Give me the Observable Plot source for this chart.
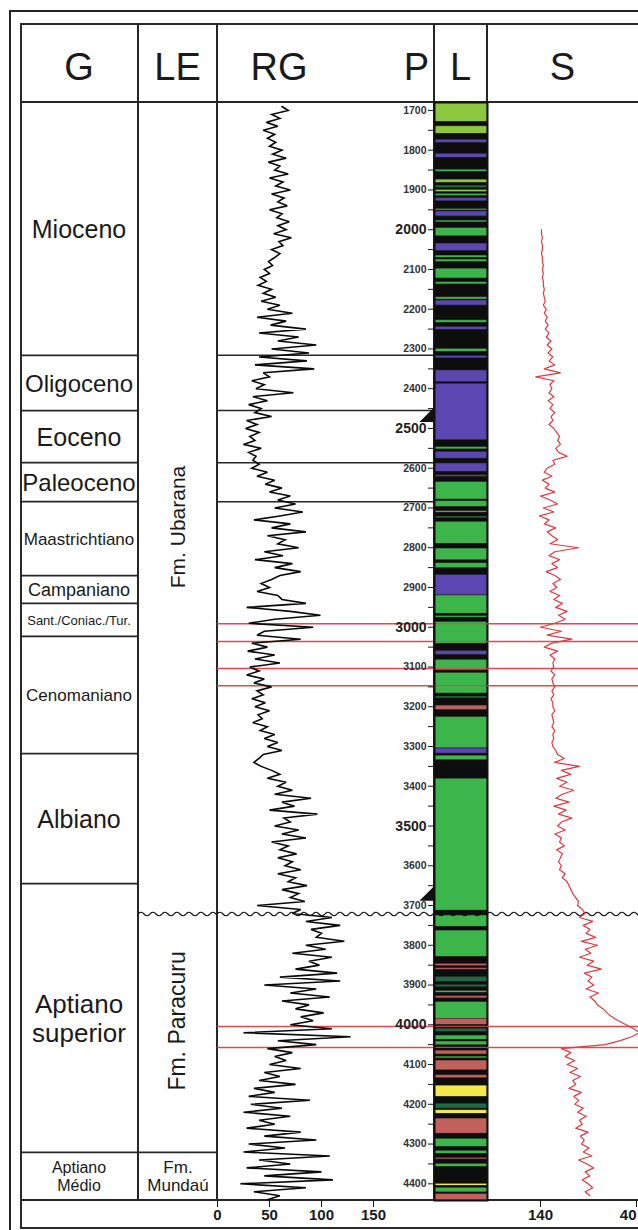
<!DOCTYPE html>
<html>
<head>
<meta charset="utf-8">
<script src="https://cdn.jsdelivr.net/npm/d3@7"></script>
<script src="https://cdn.jsdelivr.net/npm/@observablehq/plot@0.6"></script>
<style>
  html,body{margin:0;padding:0;background:#fff;}
  *{box-sizing:border-box;}
  #root{position:relative;width:638px;height:1230px;overflow:hidden;background:#fff;font-family:"Liberation Sans",Arial,sans-serif;color:#1a1a1a;}
  .hdr{font-size:38px;line-height:38px;text-align:center;color:#1a1a1a;white-space:nowrap;}
</style>
</head>
<body>
<div id="root"></div>
<svg width="0" height="0" style="position:absolute;left:0;top:0">
  <defs>
    <pattern id="wave" patternUnits="userSpaceOnUse" x="0" y="0" width="12" height="10">
      <path d="M0 5 Q3 1.5 6 5 T12 5" fill="none" stroke="#111" stroke-width="1.2"/>
    </pattern>
  </defs>
</svg>
<script>
// ======================= DATA =======================
// Geological ages (column G)
const geoNames = ["Mioceno","Oligoceno","Eoceno","Paleoceno","Maastrichtiano","Campaniano","Sant./Coniac./Tur.","Cenomaniano","Albiano","Aptiano\nsuperior","Aptiano\nMédio"];
const geoTops  = [1680,2316,2455,2586,2684,2870,2940,3023,3318,3645,4321];
const geoBases = [2316,2455,2586,2684,2870,2940,3023,3318,3645,4321,4442];

// Lithostratigraphic units (column LE)
const fmNames = ["Fm. Ubarana","Fm. Paracuru","Fm.\nMundaú"];
const fmTops  = [1680,3720,4321];
const fmBases = [3720,4321,4442];

// Key surfaces (m)
const ageLines = [2316,2455,2586,2684];        // black lines across RG track
const redLines = [2991,3036,3104,3147,4004,4057];
const unconformity = 3720;
const markers = [2465,3669];                    // black flags beside lithology column

// Depth ticks (P)
const depthLabels = [1700,1800,1900,2100,2200,2300,2400,2600,2700,2800,2900,3100,3200,3300,3400,3600,3700,3800,3900,4100,4200,4300,4400];
const depthLabelsBig = [2000,2500,3000,3500,4000];
const depthMinor = [1750,1850,1950,2050,2150,2250,2350,2450,2550,2650,2750,2850,2950,3050,3150,3250,3350,3450,3550,3650,3750,3850,3950,4050,4150,4250,4350];

// Lithology (column L): layer tops and codes (base = next top)
const litTop = [
1680,1729,1740,1759,1774,1782,1809,1819,1849,1855,
1874,1883,1889,1895,1900,1906,1910,1916,1921,1929,
1948,1952,1954,1967,1977,1982,1996,2017,2035,2054,
2065,2071,2075,2082,2098,2123,2132,2138,2170,2176,
2178,2191,2228,2235,2245,2252,2300,2308,2318,2324,
2354,2384,2388,2530,2547,2553,2559,2576,2588,2609,
2618,2622,2635,2679,2683,2698,2708,2712,2722,2726,
2735,2790,2802,2832,2839,2852,2869,2920,2966,2972,
2976,2987,3042,3060,3070,3082,3109,3115,3167,3175,
3179,3197,3209,3226,3305,3318,3323,3335,3381,3713,
3725,3754,3763,3830,3847,3853,3858,3862,3880,3893,
3900,3906,3915,3920,3928,3934,3943,3985,4001,4010,
4018,4027,4038,4042,4052,4065,4075,4080,4085,4090,
4115,4127,4135,4153,4182,4199,4211,4215,4224,4236,
4274,4287,4308,4317,4325,4335,4339,4350,4358,4400,
4405,4410,4422,4426];
const litCode = [
"LG","K","LG","K","P","K","P","K","G","K",
"LG","K","DG","K","LG","K","G","K","P","K",
"G","K","P","K","G","K","G","K","P","K",
"G","K","G","K","G","K","G","K","G","K",
"P","K","G","K","P","K","G","K","P","K",
"P","K","P","K","G","K","P","K","P","K",
"P","K","G","K","G","K","G","K","G","K",
"G","K","G","K","G","K","P","G","K","G",
"K","G","K","P","K","G","K","G","K","G",
"K","R","K","G","P","K","G","K","G","K",
"G","K","G","K","R","K","R","K","DG","K",
"DG","K","G","K","R","K","G","R","K","DG",
"K","G","K","G","K","R","K","G","K","R",
"K","R","K","Y","K","DG","K","Y","K","R",
"K","G","K","G","K","R","K","G","K","Y",
"K","G","K","R"];
const litBottom = 4442;
const litKeys = ["LG","G","P","K","R","Y","DG"];

// Gamma ray (RG, API) sampled every 10 m from 1690 m
const rgStart = 1690, rgStep = 10;
const rgValues = [
62,68,52,60,47,58,44,55,48,56,
50,62,53,66,49,60,55,68,50,63,
56,70,52,64,58,67,50,62,57,69,
58,66,54,71,59,63,52,60,55,49,
53,45,50,41,47,39,52,44,56,42,
60,48,72,38,66,51,85,40,78,58,
95,52,88,40,86,36,93,44,50,33,
45,37,73,34,48,30,42,36,52,28,
38,27,40,31,36,25,42,30,37,34,
40,33,48,38,55,46,62,50,70,58,
75,55,82,60,35,70,52,85,48,65,
58,78,45,63,36,72,55,80,60,52,
42,50,38,58,62,85,28,70,99,55,
30,92,45,38,80,33,48,29,55,36,
60,31,40,28,45,35,52,38,44,33,
46,36,50,39,43,34,48,41,55,45,
58,48,62,44,40,35,42,52,60,48,
66,58,72,55,90,62,74,50,96,64,
70,55,78,62,85,52,68,60,76,58,
72,65,80,58,75,68,86,62,78,70,
84,38,80,72,110,85,118,90,100,95,
122,85,104,72,110,88,98,75,115,60,
118,45,95,70,108,62,88,75,102,80,
92,70,110,25,128,58,95,48,72,55,
66,50,80,45,60,40,75,35,55,30,
89,32,62,25,70,40,55,28,80,45,
95,30,65,25,108,40,70,28,100,45,
111,22,85,35,60,48];
const rgTicks = [0,50,100,150];

// Sonic (S) sampled every 10 m from 2000 m
const sStart = 2000, sStep = 10;
const sValues = [
139,139,138,139,138,138,139,138,138,137,
138,137,138,137,137,136,137,136,135,137,
134,136,133,135,132,135,131,134,129,133,
128,132,127,131,125,136,119,145,126,130,
128,131,126,132,127,130,125,129,127,131,
126,123,120,122,119,124,121,112,127,125,
133,136,128,138,131,135,125,140,130,122,
137,126,141,131,136,124,133,128,122,130,
100,125,131,120,128,122,134,125,119,127,
123,130,120,126,117,124,112,121,114,125,
140,118,133,107,128,136,122,130,125,127,
126,129,125,128,127,125,128,126,129,127,
127,125,128,127,126,128,125,127,126,128,
127,124,122,115,125,99,118,108,123,112,
120,105,117,124,110,126,113,121,107,118,
122,114,125,118,120,115,123,117,119,121,
118,120,114,117,112,110,108,106,103,100,
101,96,93,99,85,95,88,92,82,97,
80,93,87,99,84,91,76,94,86,90,
84,92,79,88,83,80,74,70,65,58,
50,42,36,44,56,72,118,108,114,104,
112,101,109,98,106,103,110,97,105,100,
104,95,101,92,99,96,103,90,98,94,
97,89,95,86,100,91,84,93,88,96,
90,85,93,88];
const sTicks = [140,40];

// Column headers
const headers = ["G","LE","RG","P","L","S"];

// ======================= STYLE / LAYOUT =======================
const litColors = ["#8dc63f","#3cb64b","#5b47b2","#0d0d0d","#c2605b","#f3e84c","#1c6a46"];
const geoFont = {"Mioceno":25,"Oligoceno":24,"Eoceno":25,"Paleoceno":24,"Maastrichtiano":17,"Campaniano":18,"Sant./Coniac./Tur.":13,"Cenomaniano":17,"Albiano":25,"Aptiano\nsuperior":26,"Aptiano\nMédio":16};
const FONT = '"Liberation Sans", Arial, sans-serif';
const NARROW = '"Liberation Sans Narrow", "Liberation Sans", Arial, sans-serif';
const Y0 = 1680, Y1 = 4442;       // depth at top / bottom of the tracks
const TOP = 102, H = 1098;        // pixel top and height of the tracks
const yOpt = {domain:[Y0, Y1], range:[0, H]};
const LINE = "#262626";
const RED = "#e2474c";

const root = document.getElementById("root");
function put(node, left, top){ node.style.position="absolute"; node.style.left=left+"px"; node.style.top=top+"px"; root.appendChild(node); return node; }
function box(left, top, w, h, css){ const d=document.createElement("div"); d.style.cssText=css||""; d.style.width=w+"px"; d.style.height=h+"px"; return put(d,left,top); }

// records
const geo = geoNames.map((name,i)=>({name, top:geoTops[i], base:geoBases[i]}));
const fm = fmNames.map((name,i)=>({name, top:fmTops[i], base:fmBases[i]}));
const lith = litTop.map((t,i)=>({top:t, base: i+1<litTop.length ? litTop[i+1] : litBottom, code: litCode[i]}));
const rg = rgValues.map((v,i)=>({d: rgStart + i*rgStep, v}));
const son = sValues.map((v,i)=>({d: sStart + i*sStep, v}));

// wave pattern aligned on the unconformity
const ys = Plot.scale({y: yOpt});
const uPix = ys.apply(unconformity);
document.getElementById("wave").setAttribute("y", uPix + 0.5 - 5);
const waveRule = (opts) => Plot.ruleY([unconformity], {stroke:"url(#wave)", strokeWidth:10, ...opts});

// ---------- frames ----------
box(9, 10, 700, 1400, "border-left:2px solid #222;border-top:2px solid #222;");
box(20, 23, 700, 1206, "border:2px solid #2a2a2a;");
box(20, 101, 620, 2, "background:"+LINE);
box(20, 1199, 620, 2, "background:"+LINE);
[137,216,433,486].forEach(x=>box(x, 23, 2, 1177, "background:"+LINE));

// ---------- headers ----------
const hdrPos = [[20,118,"center"],[138,79,"center"],[240,78,"center"],[380,49,"right"],[434,53,"center"],[487,151,"center"]];
headers.forEach((h,i)=>{ const [l,w,a]=hdrPos[i]; const d=box(l,48,w,40,"text-align:"+a+";"); d.className="hdr"; d.textContent=h; });

const baseStyle = {fontFamily: FONT, overflow:"visible", background:"transparent"};

// ---------- G ----------
put(Plot.plot({
  width:117, height:H, margin:0,
  x:{domain:[0,1], range:[0,117], axis:null},
  y:{...yOpt, axis:null},
  style: baseStyle,
  marks:[
    Plot.ruleY(geoTops.slice(1), {stroke:LINE, strokeWidth:1.8}),
    Plot.text(geo, {y:d=>(d.top+d.base)/2, text:"name", fontSize:d=>geoFont[d.name], lineHeight:1.12, fill:"#1a1a1a"})
  ]
}), 20, TOP);

// ---------- LE ----------
put(Plot.plot({
  width:79, height:H, margin:0,
  x:{domain:[0,1], range:[0,79], axis:null},
  y:{...yOpt, axis:null},
  style: baseStyle,
  marks:[
    Plot.ruleY([fmTops[2]], {stroke:LINE, strokeWidth:1.8}),
    waveRule({}),
    Plot.text(fm.slice(0,1), {y:d=>(d.top+d.base)/2, text:"name", rotate:-90, fontSize:21, dy:19, fill:"#1a1a1a"}),
    Plot.text(fm.slice(1,2), {y:d=>(d.top+d.base)/2, text:"name", rotate:-90, fontSize:23, dy:-12, fill:"#1a1a1a"}),
    Plot.text(fm.slice(2), {y:d=>(d.top+d.base)/2, text:"name", fontSize:17, lineHeight:1.05, fill:"#1a1a1a"})
  ]
}), 138, TOP);

// ---------- RG ----------
put(Plot.plot({
  width:217, height:H+30, margin:0, marginBottom:30,
  x:{domain:[0,150], range:[0,156], label:null},
  y:{...yOpt, axis:null},
  style: baseStyle,
  marks:[
    Plot.ruleY(ageLines, {stroke:LINE, strokeWidth:1.5}),
    Plot.ruleY(redLines, {stroke:RED, strokeWidth:1.5}),
    waveRule({}),
    Plot.line(rg, {x:"v", y:"d", stroke:"#0a0a0a", strokeWidth:1.6, strokeLinejoin:"miter", strokeMiterlimit:3}),
    Plot.axisX(rgTicks, {anchor:"bottom", tickSize:7, tickPadding:2, fontSize:15, fontWeight:"bold", fontFamily:NARROW, tickFormat:d=>String(d), label:null})
  ]
}), 217, TOP);

// ---------- L (+ depth axis P) ----------
const rtri = {draw(ctx, size){ const h=Math.sqrt(size)/2; ctx.moveTo(h,-h); ctx.lineTo(h,h); ctx.lineTo(-h,h); ctx.closePath(); }};
put(Plot.plot({
  width:103, height:H, margin:0, marginLeft:50,
  x:{domain:[0,1], range:[50,103], axis:null},
  y:{...yOpt, label:null},
  color:{domain:litKeys, range:litColors},
  style: baseStyle,
  marks:[
    Plot.rect(lith, {x1:0, x2:1, y1:"top", y2:"base", fill:"code", stroke:"#111", strokeWidth:0.5}),
    Plot.ruleY(redLines, {stroke:RED, strokeWidth:1.3, strokeOpacity:0.85}),
    waveRule({}),
    Plot.frame({stroke:"#111", strokeWidth:2}),
    Plot.axisY(depthMinor, {anchor:"left", tickSize:6, tickFormat:()=>"", label:null}),
    Plot.axisY(depthLabels, {anchor:"left", tickSize:6, tickPadding:2, fontSize:10.5, fontWeight:"bold", fontFamily:NARROW, fill:"#333", tickFormat:d=>String(d), label:null}),
    Plot.axisY(depthLabelsBig, {anchor:"left", tickSize:6, tickPadding:2, fontSize:14, fontWeight:"bold", fontFamily:NARROW, fill:"#222", tickFormat:d=>String(d), label:null}),
    Plot.dot(markers, {x:()=>0, y:d=>d, symbol:rtri, r:8.5, fill:"#111", stroke:null, dx:-7.5})
  ]
}), 384, TOP);

// ---------- S ----------
put(Plot.plot({
  width:151, height:H+30, margin:0, marginBottom:30,
  x:{domain:[140,40], range:[53,148], label:null},
  y:{...yOpt, axis:null},
  style: baseStyle,
  marks:[
    Plot.ruleY(redLines, {stroke:RED, strokeWidth:1.5}),
    waveRule({}),
    Plot.line(son, {x:"v", y:"d", stroke:"#e03a40", strokeWidth:1.2}),
    Plot.axisX(sTicks.slice(0,1), {anchor:"bottom", tickSize:7, tickPadding:2, fontSize:15, fontWeight:"bold", fontFamily:NARROW, tickFormat:d=>String(d), label:null}),
    Plot.axisX(sTicks.slice(1), {anchor:"bottom", tickSize:7, tickPadding:2, fontSize:15, fontWeight:"bold", fontFamily:NARROW, textAnchor:"end", dx:1, tickFormat:d=>String(d), label:null})
  ]
}), 487, TOP);
</script>
</body>
</html>
